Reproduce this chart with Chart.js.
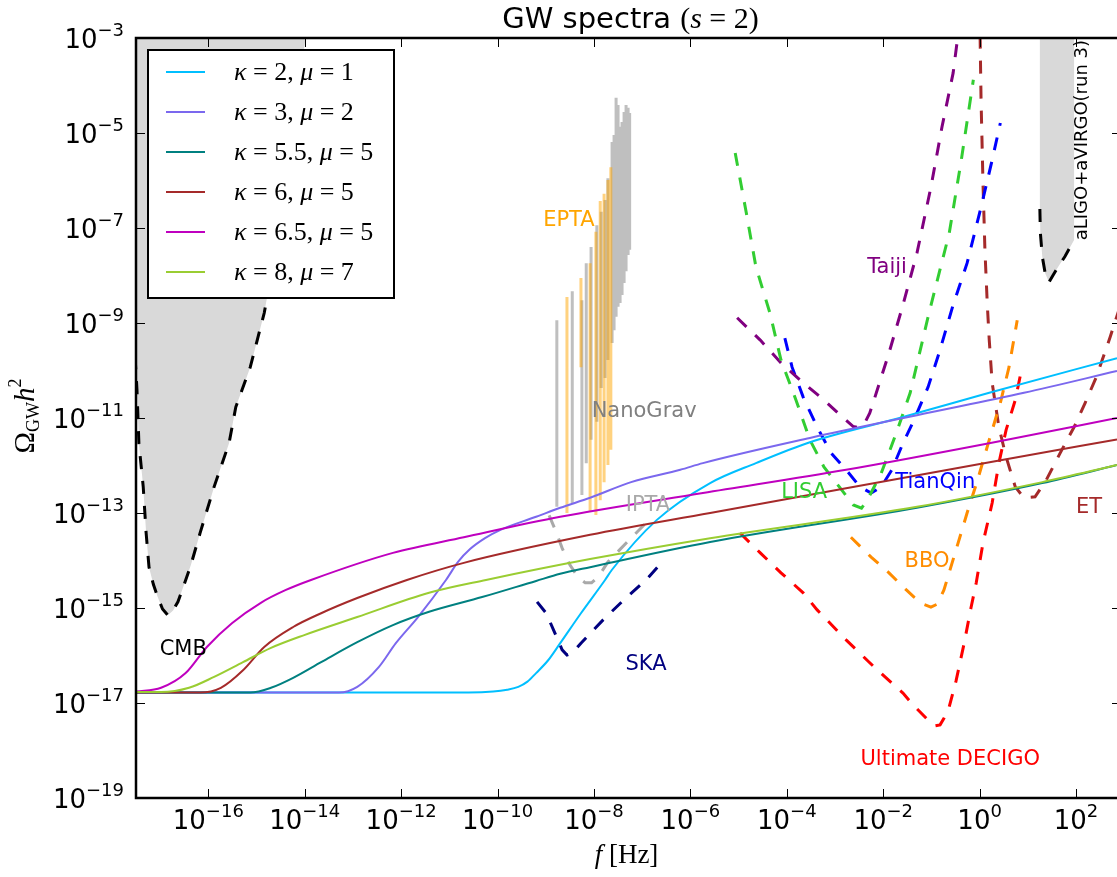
<!DOCTYPE html>
<html>
<head>
<meta charset="utf-8">
<title>GW spectra</title>
<script src="https://cdn.jsdelivr.net/npm/chart.js@4.4.0/dist/chart.umd.min.js"></script>
<style>
  html, body { margin: 0; padding: 0; background: #fff; }
  #spectraChart { display: block; }
</style>
</head>
<body>
<canvas id="spectraChart" width="1117" height="877"></canvas>
<script>
// All series are stored as log10 values: f in Hz, Omega_GW h^2

// axis range and tick decades
const xMinExp = -17.5;
const xMaxExp = 2.85;
const yMinExp = -19;
const yMaxExp = -3;
const xTickExp = [-16, -14, -12, -10, -8, -6, -4, -2, 0, 2];
const yTickExp = [-19, -17, -15, -13, -11, -9, -7, -5, -3];

// model spectra (s = 2)
const modelLabels = ['κ = 2, μ = 1', 'κ = 3, μ = 2', 'κ = 5.5, μ = 5', 'κ = 6, μ = 5', 'κ = 6.5, μ = 5', 'κ = 8, μ = 7'];

const k2LogF = [-17.5, -10.6, -10.09, -9.8, -9.57, -9.38, -9.2, -8.95, -8.7, -8.27, -7.77, -7.63, -6.7, -5.59, -4.64, -3.52, -1.59, 0.2, 2.85];
const k2LogOmega = [-16.78, -16.78, -16.76, -16.72, -16.66, -16.55, -16.37, -16.1, -15.74, -15.11, -14.41, -14.2, -13.15, -12.37, -11.95, -11.51, -10.98, -10.47, -9.74];

const k3LogF = [-17.5, -13.29, -12.91, -12.46, -12.11, -11.65, -11.07, -10.82, -10.57, -10.26, -9.95, -9.2, -8.7, -8.08, -7.23, -6.21, -5.74, -3.52, -1.3, 0.92, 2.85];
const k3LogOmega = [-16.78, -16.78, -16.66, -16.24, -15.74, -15.19, -14.41, -14.03, -13.76, -13.53, -13.36, -13.08, -12.89, -12.68, -12.35, -12.09, -11.95, -11.42, -10.94, -10.47, -10.01];

const k55LogF = [-17.5, -15.13, -14.7, -14.24, -13.66, -12.91, -12.17, -11.42, -10.32, -9.2, -8.7, -8.08, -5.59, -1.3, 1.3, 2.85];
const k55LogOmega = [-16.78, -16.78, -16.68, -16.47, -16.14, -15.72, -15.36, -15.08, -14.77, -14.43, -14.28, -14.14, -13.61, -12.89, -12.37, -11.99];

const k6LogF = [-17.5, -16.17, -15.74, -15.28, -14.84, -14.24, -13.66, -12.91, -11.88, -10.7, -8.08, -5.59, -2.77, 0.55, 2.85];
const k6LogOmega = [-16.78, -16.78, -16.68, -16.31, -15.82, -15.4, -15.11, -14.79, -14.41, -14.05, -13.46, -13.0, -12.48, -11.87, -11.45];

const k65LogF = [-17.5, -16.98, -16.47, -16.03, -15.51, -14.91, -14.39, -13.87, -12.17, -10.7, -8.7, -5.74, -2.77, 0.2, 2.85];
const k65LogOmega = [-16.76, -16.68, -16.37, -15.82, -15.32, -14.89, -14.62, -14.41, -13.84, -13.51, -13.08, -12.58, -12.09, -11.53, -11.0];

const k8LogF = [-17.5, -16.98, -16.4, -15.88, -15.28, -14.7, -14.01, -12.91, -11.42, -10.24, -8.08, -5.59, -1.3, 1.3, 2.85];
const k8LogOmega = [-16.77, -16.77, -16.68, -16.45, -16.14, -15.84, -15.57, -15.19, -14.68, -14.41, -13.97, -13.53, -12.87, -12.35, -11.99];

// detector sensitivity curves
const cmbLogF = [-17.52, -17.48, -17.44, -17.35, -17.29, -17.23, -17.14, -17.05, -16.95, -16.84, -16.73, -16.63, -16.5, -16.36, -16.17, -15.88, -15.57, -15.43, -15.13, -14.84, -14.78];
const cmbLogOmega = [-9.7, -10.4, -11.53, -12.45, -13.42, -14.14, -14.5, -14.77, -15.02, -15.15, -15.05, -14.87, -14.5, -14.09, -13.42, -12.45, -11.53, -10.77, -9.93, -8.79, -8.45];
// upper part of the CMB excluded region (closes the shaded area)
const cmbTopLogF = [-13.98, -13.96, -17.7, -17.7];
const cmbTopLogOmega = [-3.0, -2.8, -2.8, -9.7];

const aligoLogF = [1.25, 1.26, 1.3, 1.36, 1.44, 1.52, 1.64, 1.77, 1.96];
const aligoLogOmega = [-6.6, -7.1, -7.6, -7.95, -8.14, -8.0, -7.8, -7.6, -7.25];
const aligoTopLogF = [1.96, 1.25];
const aligoTopLogOmega = [-2.8, -2.8];

const skaLogF = [-9.18, -8.99, -8.81, -8.66, -8.56, -8.45, -8.27, -7.81, -7.38, -6.92, -6.55];
const skaLogOmega = [-14.87, -15.11, -15.53, -15.88, -15.99, -15.95, -15.74, -15.25, -14.83, -14.41, -13.99];

const iptaLogF = [-8.93, -8.8, -8.66, -8.5, -8.33, -8.18, -8.05, -7.9, -7.71, -7.31, -6.94, -6.77];
const iptaLogOmega = [-13.05, -13.36, -13.74, -14.09, -14.35, -14.47, -14.47, -14.33, -14.03, -13.61, -13.23, -13.08];

const lisaLogF = [-5.07, -4.84, -4.64, -4.35, -4.12, -3.81, -3.52, -3.23, -2.91, -2.62, -2.45, -2.33, -2.04, -1.73, -1.44, -1.05, -0.63, -0.38, -0.13];
const lisaLogOmega = [-5.42, -6.68, -7.82, -8.79, -9.78, -10.62, -11.46, -12.03, -12.45, -12.83, -12.9, -12.73, -12.16, -11.32, -10.47, -8.79, -7.11, -5.57, -3.88];

const taijiLogF = [-5.03, -4.55, -4.12, -3.66, -3.23, -2.85, -2.62, -2.5, -2.38, -2.28, -2.19, -1.88, -1.59, -1.3, -1.01, -0.78, -0.55, -0.45];
const taijiLogOmega = [-8.89, -9.36, -9.84, -10.26, -10.62, -10.98, -11.18, -11.2, -11.1, -10.9, -10.62, -9.63, -8.62, -7.53, -6.14, -4.87, -3.74, -2.95];

const tianqinLogF = [-4.04, -3.89, -3.66, -3.37, -3.08, -2.77, -2.48, -2.25, -2.04, -1.82, -1.59, -1.36, -1.07, -0.84, -0.55, -0.26, 0.03, 0.26, 0.43];
const tianqinLogOmega = [-9.32, -9.93, -10.56, -11.19, -11.74, -12.09, -12.45, -12.58, -12.45, -12.09, -11.53, -11.04, -10.35, -9.63, -8.62, -7.74, -6.56, -5.57, -4.79];

const bboLogF = [-2.67, -2.25, -1.88, -1.52, -1.36, -1.17, -1.01, -0.88, -0.74, -0.49, -0.26, -0.05, 0.18, 0.43, 0.61, 0.78];
const bboLogOmega = [-13.51, -13.93, -14.26, -14.62, -14.77, -14.92, -14.98, -14.92, -14.62, -13.78, -13.0, -12.33, -11.53, -10.68, -9.93, -8.94];

const decigoLogF = [-4.97, -4.55, -4.12, -3.66, -3.37, -2.77, -2.19, -1.59, -1.38, -1.07, -0.92, -0.82, -0.74, -0.63, -0.49, -0.32, -0.18, -0.07, 0.07, 0.26, 0.4, 0.55, 0.74, 0.88];
const decigoLogOmega = [-13.42, -13.84, -14.26, -14.68, -15.04, -15.67, -16.24, -16.79, -17.04, -17.36, -17.48, -17.46, -17.32, -17.08, -16.54, -15.74, -15.0, -14.47, -13.63, -12.79, -11.95, -11.25, -10.62, -9.93];

const etLogF = [0.01, 0.03, 0.07, 0.11, 0.16, 0.2, 0.26, 0.4, 0.55, 0.74, 0.92, 1.15, 1.38, 1.67, 1.96, 2.19, 2.42, 2.71, 2.91];
const etLogOmega = [-2.95, -4.31, -6.05, -7.46, -8.62, -9.36, -10.26, -11.19, -11.82, -12.45, -12.68, -12.66, -12.31, -11.74, -11.19, -10.68, -10.14, -9.29, -8.66];

// PTA free-spectrum ranges (one vertical segment per frequency bin)
const nanogravLogF = [-8.77, -8.45, -8.25, -8.16, -8.06, -7.94, -7.85, -7.77, -7.71, -7.624, -7.583, -7.541, -7.5, -7.458, -7.417, -7.375, -7.334, -7.292, -7.26];
const nanogravLow = [-12.87, -12.79, -12.62, -11.95, -11.46, -11.08, -10.37, -10.16, -9.78, -9.42, -9.15, -8.87, -8.66, -8.58, -8.41, -8.16, -7.91, -7.57, -7.46];
const nanogravHigh = [-8.94, -8.33, -8.52, -7.74, -7.4, -6.94, -6.66, -6.41, -5.95, -5.19, -5.04, -4.26, -4.41, -4.87, -4.77, -4.56, -4.41, -4.47, -4.58];

const eptaLogF = [-8.56, -8.27, -8.08, -7.96, -7.87, -7.79, -7.71, -7.65];
const eptaLow = [-13.0, -9.93, -12.98, -13.04, -12.73, -12.35, -11.99, -11.67];
const eptaHigh = [-8.45, -8.05, -7.74, -7.08, -6.43, -6.28, -5.99, -5.72];

// ---- styles ----
const SANS = '"DejaVu Sans", sans-serif';
const SERIF = '"Liberation Serif", "DejaVu Serif", serif';
const modelColors = ['#00bfff', '#7b68ee', '#008080', '#a52a2a', '#bf00bf', '#9acd32'];
const DASH = [13, 12];

function toPoints(logF, logOmega) {
    return logF.map((f, i) => ({ x: Math.pow(10, f), y: Math.pow(10, logOmega[i]) }));
}

// vertical segments separated by gaps
function toSegments(logF, low, high) {
    const pts = [];
    logF.forEach((f, i) => {
        const x = Math.pow(10, f);
        pts.push({ x: x, y: Math.pow(10, low[i]) });
        pts.push({ x: x, y: Math.pow(10, high[i]) });
        pts.push({ x: x, y: null });
    });
    return pts;
}

function modelSet(i, logF, logOmega) {
    return {
        label: modelLabels[i],
        data: toPoints(logF, logOmega),
        showLine: true,
        borderColor: modelColors[i],
        borderWidth: 2,
        cubicInterpolationMode: 'monotone',
        pointRadius: 0,
        order: 6 - i,
        inLegend: true,
        clip: 0
    };
}

function detectorSet(label, color, logF, logOmega) {
    return {
        label: label,
        data: toPoints(logF, logOmega),
        showLine: true,
        borderColor: color,
        borderWidth: 3,
        borderDash: DASH,
        borderCapStyle: 'butt',
        pointRadius: 0,
        order: 20,
        clip: 0
    };
}

function regionSet(label, logF, logOmega) {
    return {
        label: label,
        data: toPoints(logF, logOmega),
        showLine: true,
        borderWidth: 0,
        borderColor: 'rgba(0,0,0,0)',
        backgroundColor: '#d9d9d9',
        fill: 'shape',
        pointRadius: 0,
        order: 40,
        clip: 0
    };
}

function ptaSet(label, color, logF, low, high, order) {
    return {
        label: label,
        data: toSegments(logF, low, high),
        showLine: true,
        spanGaps: false,
        borderColor: color,
        borderWidth: 3,
        borderCapStyle: 'butt',
        pointRadius: 0,
        order: order,
        clip: 0
    };
}

const datasets = [
    modelSet(0, k2LogF, k2LogOmega),
    modelSet(1, k3LogF, k3LogOmega),
    modelSet(2, k55LogF, k55LogOmega),
    modelSet(3, k6LogF, k6LogOmega),
    modelSet(4, k65LogF, k65LogOmega),
    modelSet(5, k8LogF, k8LogOmega),
    detectorSet('CMB', '#000000', cmbLogF, cmbLogOmega),
    detectorSet('aLIGO', '#000000', aligoLogF, aligoLogOmega),
    detectorSet('SKA', '#000080', skaLogF, skaLogOmega),
    detectorSet('IPTA', '#a9a9a9', iptaLogF, iptaLogOmega),
    detectorSet('LISA', '#32cd32', lisaLogF, lisaLogOmega),
    detectorSet('Taiji', '#800080', taijiLogF, taijiLogOmega),
    detectorSet('TianQin', '#0000ff', tianqinLogF, tianqinLogOmega),
    detectorSet('BBO', '#ff8c00', bboLogF, bboLogOmega),
    detectorSet('Ultimate DECIGO', '#ff0000', decigoLogF, decigoLogOmega),
    detectorSet('ET', '#a52a2a', etLogF, etLogOmega),
    ptaSet('EPTA', 'rgba(255,165,0,0.5)', eptaLogF, eptaLow, eptaHigh, 30),
    ptaSet('NanoGrav', 'rgba(128,128,128,0.5)', nanogravLogF, nanogravLow, nanogravHigh, 31),
    regionSet('CMB region', cmbLogF.concat(cmbTopLogF), cmbLogOmega.concat(cmbTopLogOmega)),
    regionSet('aLIGO region', aligoLogF.concat(aligoTopLogF), aligoLogOmega.concat(aligoTopLogOmega))
];

// text labels next to each curve, anchored in data coordinates
const curveNotes = [
    { text: 'CMB', f: -16.52, omega: -15.88, color: '#000000' },
    { text: 'SKA', f: -6.92, omega: -16.18, color: '#000080' },
    { text: 'IPTA', f: -6.88, omega: -12.85, color: '#a9a9a9' },
    { text: 'NanoGrav', f: -6.96, omega: -10.87, color: '#808080' },
    { text: 'EPTA', f: -8.52, omega: -6.85, color: '#ffa500' },
    { text: 'LISA', f: -3.64, omega: -12.56, color: '#32cd32' },
    { text: 'TianQin', f: -0.92, omega: -12.35, color: '#0000ff' },
    { text: 'Taiji', f: -1.92, omega: -7.84, color: '#800080' },
    { text: 'ET', f: 2.27, omega: -12.89, color: '#a52a2a' },
    { text: 'BBO', f: -1.09, omega: -14.03, color: '#ff8c00' },
    { text: 'Ultimate DECIGO', f: -0.61, omega: -18.18, color: '#ff0000' }
];

// draws a run of text pieces with their own fonts and baseline shifts
function drawPieces(ctx, pieces, x, y, align) {
    let total = 0;
    pieces.forEach(p => {
        ctx.font = p.font;
        p.w = ctx.measureText(p.text).width;
        total += p.w;
    });
    let cx = x;
    if (align === 'center') cx = x - total / 2;
    if (align === 'right') cx = x - total;
    ctx.textAlign = 'left';
    pieces.forEach(p => {
        ctx.font = p.font;
        ctx.fillText(p.text, cx, y + (p.dy || 0));
        cx += p.w;
    });
}

function powerLabel(exp) {
    const sup = exp < 0 ? '\u2212' + Math.abs(exp) : String(exp);
    return [
        { text: '10', font: '26px ' + SANS },
        { text: sup, font: '18px ' + SANS, dy: -12 }
    ];
}

// greek letters in italic, the rest upright
function mathPieces(label, size) {
    return label.split(/([κμ])/).filter(s => s.length).map(s => ({
        text: s,
        font: (/[κμ]/.test(s) ? 'italic ' : '') + size + 'px ' + SERIF
    }));
}

const decorations = {
    id: 'decorations',
    afterDraw(chart) {
        const { ctx, chartArea: a, scales } = chart;
        const xs = scales.x, ys = scales.y;
        ctx.save();
        ctx.fillStyle = '#000';

        // curve labels
        ctx.font = '21px ' + SANS;
        ctx.textAlign = 'center';
        ctx.textBaseline = 'middle';
        curveNotes.forEach(n => {
            ctx.fillStyle = n.color;
            ctx.fillText(n.text, xs.getPixelForValue(Math.pow(10, n.f)), ys.getPixelForValue(Math.pow(10, n.omega)));
        });
        // rotated aLIGO label
        ctx.save();
        ctx.translate(xs.getPixelForValue(Math.pow(10, 2.13)), ys.getPixelForValue(Math.pow(10, -5.15)));
        ctx.rotate(-Math.PI / 2);
        ctx.fillStyle = '#000';
        ctx.font = '18px ' + SANS;
        ctx.fillText('aLIGO+aVIRGO(run 3)', 0, 0);
        ctx.restore();

        // frame
        ctx.strokeStyle = '#000';
        ctx.lineWidth = 2.5;
        ctx.beginPath();
        ctx.moveTo(a.right + 2, a.top);
        ctx.lineTo(a.left, a.top);
        ctx.lineTo(a.left, a.bottom);
        ctx.lineTo(a.right + 2, a.bottom);
        ctx.stroke();

        // inward ticks
        ctx.lineWidth = 1;
        ctx.beginPath();
        xTickExp.forEach(e => {
            const px = Math.round(xs.getPixelForValue(Math.pow(10, e))) + 0.5;
            ctx.moveTo(px, a.bottom); ctx.lineTo(px, a.bottom - 9);
            ctx.moveTo(px, a.top); ctx.lineTo(px, a.top + 9);
        });
        yTickExp.forEach(e => {
            const py = Math.round(ys.getPixelForValue(Math.pow(10, e))) + 0.5;
            ctx.moveTo(a.left, py); ctx.lineTo(a.left + 9, py);
            ctx.moveTo(a.right + 4, py); ctx.lineTo(a.right - 5, py);
        });
        ctx.stroke();

        // tick labels
        ctx.fillStyle = '#000';
        ctx.textBaseline = 'alphabetic';
        xTickExp.forEach(e => {
            drawPieces(ctx, powerLabel(e), xs.getPixelForValue(Math.pow(10, e)), a.bottom + 31, 'center');
        });
        yTickExp.forEach(e => {
            drawPieces(ctx, powerLabel(e), a.left - 12, ys.getPixelForValue(Math.pow(10, e)) + 10, 'right');
        });

        // title
        const midX = (a.left + a.right) / 2;
        drawPieces(ctx, [
            { text: 'GW spectra ', font: '29px ' + SANS },
            { text: '(', font: '30px ' + SERIF },
            { text: 's', font: 'italic 30px ' + SERIF },
            { text: ' = 2)', font: '30px ' + SERIF }
        ], midX + 4, a.top - 10, 'center');

        // axis titles
        drawPieces(ctx, [
            { text: 'f', font: 'italic 27px ' + SERIF },
            { text: ' [Hz]', font: '27px ' + SERIF }
        ], midX, a.bottom + 65, 'center');

        ctx.save();
        ctx.translate(34, (a.top + a.bottom) / 2 - 2);
        ctx.rotate(-Math.PI / 2);
        drawPieces(ctx, [
            { text: 'Ω', font: '29px ' + SERIF },
            { text: 'GW', font: '18px ' + SERIF, dy: 5 },
            { text: 'h', font: 'italic 29px ' + SERIF },
            { text: '2', font: '18px ' + SERIF, dy: -13 }
        ], 0, 0, 'center');
        ctx.restore();

        // legend box
        const box = { left: 148, top: 50, width: 246, height: 248 };
        ctx.fillStyle = '#fff';
        ctx.fillRect(box.left, box.top, box.width, box.height);
        ctx.strokeStyle = '#000';
        ctx.lineWidth = 2;
        ctx.strokeRect(box.left, box.top, box.width, box.height);
        const entries = chart.data.datasets.filter(d => d.inLegend);
        entries.forEach((d, i) => {
            const rowY = box.top + 22 + i * 40;
            ctx.strokeStyle = d.borderColor;
            ctx.lineWidth = 2;
            ctx.beginPath();
            ctx.moveTo(166, rowY);
            ctx.lineTo(205, rowY);
            ctx.stroke();
            ctx.fillStyle = '#000';
            drawPieces(ctx, mathPieces(d.label, 26), 234, rowY + 8, 'left');
        });

        ctx.restore();
    }
};

const spectraChart = new Chart(document.getElementById('spectraChart'), {
    type: 'scatter',
    data: { datasets: datasets },
    options: {
        responsive: false,
        animation: false,
        events: [],
        layout: { padding: { top: 38, right: 0, left: 0, bottom: 0 } },
        plugins: {
            legend: { display: false },
            title: { display: false },
            tooltip: { enabled: false }
        },
        scales: {
            x: {
                type: 'logarithmic',
                position: 'bottom',
                bounds: 'data',
                min: Math.pow(10, xMinExp),
                max: Math.pow(10, xMaxExp),
                grid: { display: false },
                border: { display: false },
                ticks: { display: false },
                afterFit: scale => { scale.height = 79; }
            },
            y: {
                type: 'logarithmic',
                position: 'left',
                bounds: 'data',
                min: Math.pow(10, yMinExp),
                max: Math.pow(10, yMaxExp),
                grid: { display: false },
                border: { display: false },
                ticks: { display: false },
                afterFit: scale => { scale.width = 136; }
            }
        }
    },
    plugins: [decorations]
});
</script>
</body>
</html>
